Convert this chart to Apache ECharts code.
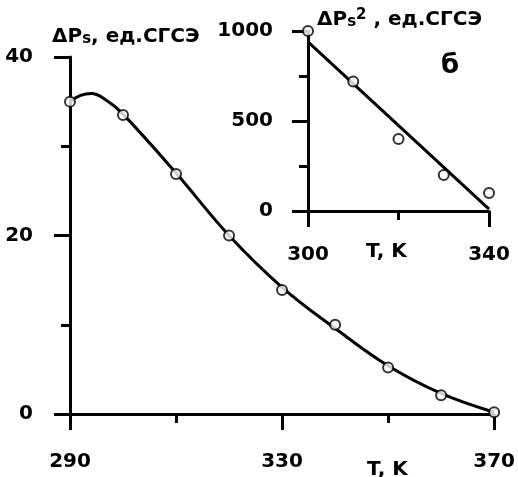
<!DOCTYPE html>
<html><head><meta charset="utf-8">
<script src="https://cdn.jsdelivr.net/npm/echarts@6/dist/echarts.min.js"></script>
<style>html,body{margin:0;padding:0;background:#fff}#c{width:518px;height:477px}</style>
</head><body><div id="c"></div>
<script>
// Main chart: ΔPs vs T
const mainT = [290, 300, 310, 320, 330, 340, 350, 360, 370];
const mainP = [35.0, 33.5, 26.9, 20.0, 13.9, 10.0, 5.2, 2.1, 0.2];
const curveT = [290, 292, 294, 297, 300, 310, 320, 330, 340, 350, 360, 370];
const curveP = [35.0, 35.7, 35.9, 35.1, 33.6, 27.0, 20.0, 14.2, 9.6, 5.4, 2.3, 0.2];
// Inset (б): ΔPs² vs T
const insetT = [300, 310, 320, 330, 340];
const insetP2 = [1000, 720, 400, 200, 100];
const fitT = [300, 340];
const fitP2 = [940, 10];

const FONT = 'DejaVu Sans';
const pair = (xs, ys) => xs.map((x, i) => [x, ys[i]]);

const axisCommon = {
  axisLine: { show: true, onZero: false, lineStyle: { color: '#000', width: 3 } },
  axisTick: { show: true, inside: false, length: 16, lineStyle: { color: '#000', width: 3 } },
  minorTick: { show: true, splitNumber: 2, length: 9, lineStyle: { color: '#000', width: 3 } },
  splitLine: { show: false },
  minorSplitLine: { show: false },
  axisLabel: { color: '#000', fontFamily: FONT, fontWeight: 'bold', fontSize: 20 }
};
function ax(extra) {
  const o = JSON.parse(JSON.stringify(axisCommon));
  for (const k in extra) {
    if (typeof extra[k] === 'object' && o[k]) Object.assign(o[k], extra[k]); else o[k] = extra[k];
  }
  o.axisLabel.formatter = v => String(v);
  return o;
}

const richName = {
  a: { fontFamily: FONT, fontWeight: 'bold', fontSize: 20, lineHeight: 22, verticalAlign: 'bottom', fill: '#000', color: '#000' },
  s: { fontFamily: FONT, fontWeight: 'bold', fontSize: 15, lineHeight: 14, verticalAlign: 'bottom', fill: '#000', color: '#000' },
  p: { fontFamily: FONT, fontWeight: 'bold', fontSize: 15, lineHeight: 11, verticalAlign: 'top', fill: '#000', color: '#000' }
};

const chart = echarts.init(document.getElementById('c'), null, { renderer: 'canvas' });
chart.setOption({
  backgroundColor: '#fff',
  animation: false,
  grid: [
    { left: 70, top: 57, width: 426, height: 357 },
    { left: 308, top: 31, width: 181, height: 180 }
  ],
  xAxis: [
    ax({ type: 'value', gridIndex: 0, min: 290, max: 370, interval: 40, axisLabel: { margin: 38 } }),
    ax({ type: 'value', gridIndex: 1, min: 300, max: 340, interval: 40, axisLabel: { margin: 34 } })
  ],
  yAxis: [
    ax({ type: 'value', gridIndex: 0, min: 0, max: 40, interval: 20, axisLabel: { margin: 37 } }),
    ax({ type: 'value', gridIndex: 1, min: 0, max: 1000, interval: 500, axisLabel: { margin: 35 } })
  ],
  series: [
    { type: 'line', xAxisIndex: 0, yAxisIndex: 0, data: pair(curveT, curveP), smooth: 0.4, showSymbol: false,
      lineStyle: { color: '#000', width: 3 }, z: 2 },
    { type: 'scatter', xAxisIndex: 0, yAxisIndex: 0, data: pair(mainT, mainP), symbol: 'circle', symbolSize: 10,
      itemStyle: { color: '#fff', borderColor: '#000', borderWidth: 2 }, z: 3 },
    { type: 'line', xAxisIndex: 1, yAxisIndex: 1, data: pair(fitT, fitP2), showSymbol: false,
      lineStyle: { color: '#000', width: 3 }, z: 2 },
    { type: 'scatter', xAxisIndex: 1, yAxisIndex: 1, data: pair(insetT, insetP2), symbol: 'circle', symbolSize: 10,
      itemStyle: { color: '#fff', borderColor: '#000', borderWidth: 2 }, z: 3 }
  ],
  graphic: [
    { type: 'text', left: 52, top: 27, style: { text: '{a|ΔP}{s|s}{a|, ед.СГСЭ}', rich: richName } },
    { type: 'text', left: 317, top: 8, style: { text: '{a|ΔP}{s|s}{p|2}{a| , ед.СГСЭ}', rich: richName } },
    { type: 'text', left: 367, top: 460, style: { text: 'T, K', fontFamily: FONT, fontWeight: 'bold', fontSize: 20, fill: '#000' } },
    { type: 'text', left: 366, top: 242, style: { text: 'T, K', fontFamily: FONT, fontWeight: 'bold', fontSize: 20, fill: '#000' } },
    { type: 'text', left: 441, top: 53, style: { text: 'б', fontFamily: FONT, fontWeight: 'bold', fontSize: 26, fill: '#000' } }
  ]
});
</script></body></html>
